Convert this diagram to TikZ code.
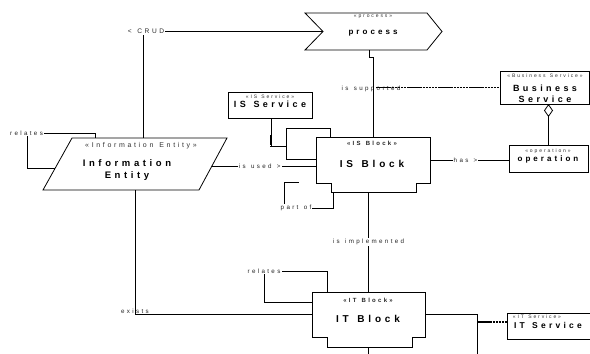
\documentclass[tikz,border=0pt]{standalone}
\usepackage{fontspec}
\setmainfont{Liberation Sans}
\newfontfamily\lsf[LetterSpace=38,WordSpace=1.3]{Liberation Sans}
\usetikzlibrary{arrows.meta}
\begin{document}
\begin{tikzpicture}[x=1pt,y=-1pt,
  lbl/.style={font=\lsf\fontsize{6.2}{7}\selectfont, text=black!85, inner sep=1pt},
  ster/.style={font=\lsf\fontsize{#1}{#1}\selectfont, text=black!80, inner sep=0pt},
  ster/.default=5,
  sterb/.style={font=\lsf\bfseries\fontsize{#1}{#1}\selectfont, text=black!85, inner sep=0pt},
  sterb/.default=6,
  nm/.style={font=\lsf\bfseries\fontsize{#1}{#1}\selectfont, inner sep=0pt},
  nm/.default=9,
  area/.style={inner sep=0pt, outer sep=0pt},
  outline/.style={draw, line width=0.8pt},
  conn/.style={line width=0.8pt},
  dsh/.style={line width=1.6pt, dash pattern=on 2.5pt off 0.6pt},
]
\fill[white] (0,0) rectangle (590,354);
\useasboundingbox (0,0) rectangle (590,354);

% ---------- element areas ----------
\node[area, minimum width=137pt, minimum height=37pt] (proc) at (373.5,31.5) {};
\node[area, outline, minimum width=89pt, minimum height=33pt] (bs) at (544.5,87.5) {};
\node[area, outline, minimum width=79pt, minimum height=27pt] (op) at (548.5,158.5) {};
\node[area, outline, minimum width=84pt, minimum height=26pt] (iss) at (270,105) {};
\node[area, minimum width=114pt, minimum height=46pt] (isb) at (373,160) {};
\node[area, minimum width=184pt, minimum height=52pt] (ie) at (135,164) {};
\node[area, minimum width=113pt, minimum height=45pt] (itb) at (368.5,314.5) {};
\node[area, minimum width=88pt, minimum height=26pt] (its) at (551,326) {};

% ---------- outlines ----------
\draw[outline] (proc.north west) -- ([xshift=-15pt]proc.north east) -- (proc.east)
  -- ([xshift=-15pt]proc.south east) -- (proc.south west) -- ([xshift=18pt]proc.west) -- cycle;
\draw[outline] (isb.north west) -- (isb.north east) -- (isb.south east) -- ++(-14,0) -- ++(0,9)
  -- ++(-85,0) -- ++(0,-9) -- (isb.south west) -- cycle;
\draw[outline] (itb.north west) -- (itb.north east) -- (itb.south east) -- ++(-13,0) -- ++(0,10)
  -- ++(-85,0) -- ++(0,-10) -- (itb.south west) -- cycle;
\draw[outline] ([xshift=29pt]ie.north west) -- (ie.north east) -- ([xshift=-28pt]ie.south east)
  -- (ie.south west) -- cycle;
\draw[outline] ([xshift=-5pt]its.north east) -- (its.north west) -- (its.south west) -- ([xshift=-5pt]its.south east);

% ---------- texts ----------
\node[ster] at (373,16.5) {«process»};
\node[nm=8] at (373,33) {process};
\node[ster] at (545,76) {«Business Service»};
\node[nm] at (545,88) {Business};
\node[nm] at (545,99.5) {Service};
\node[ster] at (548,151) {«operation»};
\node[nm=8] at (548,159.5) {operation};
\node[ster] at (270,97) {«IS Service»};
\node[nm] at (270,104.5) {IS Service};
\node[sterb] at (372,143) {«IS Block»};
\node[nm=10] at (372,164) {IS Block};
\node[ster=7] at (141,146) {«Information Entity»};
\node[nm=9.5] at (127,163) {Information};
\node[nm=9.5] at (127,176) {Entity};
\node[sterb] at (368,300) {«IT Block»};
\node[nm=10] at (368,319) {IT Block};
\node[ster] at (537,317) {«IT Service»};
\node[nm=8.5] at (548,325.5) {IT Service};

% ---------- label nodes ----------
\node[lbl, font=\lsf\fontsize{6.6}{7}\selectfont] (crud) at (146,31.5) {< CRUD};
\node[lbl] (sup) at (371,89) {is supported};
\node[lbl] (partof) at (296,208) {part of};
\node[lbl] (rel1) at (26.5,133) {relates};
\node[lbl] (rel2) at (264,271) {relates};

% ---------- ports ----------
\coordinate (ieL) at ([xshift=12.3pt,yshift=-4pt]ie.west);
\coordinate (ieR) at ([xshift=-15.1pt,yshift=-2pt]ie.east);

% ---------- connectors ----------
% CRUD
\draw[conn] ([xshift=8pt]ie.north) -- ([xshift=8pt]ie.north |- crud.south);
\draw[conn] (crud.east) -- ([xshift=18pt]proc.west);
% process - IS Block
\draw[conn] ([xshift=-4.5pt]proc.south) -- ++(0,7) -| (isb.north);
% is supported
\draw[dsh] ([xshift=3pt]isb.north |- bs.west) -- (bs.west);
% aggregation
\draw[conn, -{Diamond[open, length=13pt, width=9pt, line width=0.8pt]}] (op.north) -- (op.north |- bs.south);
% has >
\draw[conn] (isb.east) -- (op.west |- isb.east) node[pos=0.45, lbl, fill=white] {has >};
% is used >
\draw[conn] (ieR) -- (isb.west |- ieR) node[pos=0.46, lbl, fill=white] {is used >};
% IS Block self loop
\draw[conn] ([xshift=14pt]isb.north west) -- ++(0,-9) -- ++(-44,0) -- ++(0,31) -- ++(30,0);
% IS Service to loop
\draw[conn] ([xshift=1pt]iss.south) -- ++(0,28) -- ++(15,0);
\draw[line width=1.4pt, dash pattern=on 1.5pt off 0.6pt] ([xshift=1pt,yshift=-17pt]iss.south) -- ++(0,11);
% part of
\draw[conn] ([xshift=17pt,yshift=-9pt]isb.south west) |- (partof.east);
\draw[conn] ([xshift=5pt]partof.north west) -- ++(0,-22) -- ++(14,0);
% is implemented
\draw[conn] ([yshift=-9pt]isb.south -| itb.north) -- (itb.north) node[midway, lbl, fill=white] {is implemented};
% exists
\draw[conn] (ie.south) |- (itb.west) node[pos=0.5, lbl, anchor=south] {exists};
% relates (Information Entity)
\draw[conn] (rel1.east) -| ([xshift=-40pt]ie.north);
\draw[conn] ([xshift=0.5pt]rel1.south) |- (ieL);
% relates (IT Block)
\draw[conn] ([xshift=15pt]itb.north west) |- (rel2.east);
\draw[conn] (rel2.south) |- ([yshift=12.5pt]itb.west);
% IT Block - IT Service
\draw[conn] (itb.east) -- ++(52,0) coordinate (itj) -- ++(0,45);
\draw[dsh] ([yshift=-7.5pt]itj) coordinate (itk) -- (its.west |- itk);
% IT Block bottom
\draw[conn] ([yshift=-10pt]itb.south) -- ++(0,12);
\end{tikzpicture}
\end{document}
